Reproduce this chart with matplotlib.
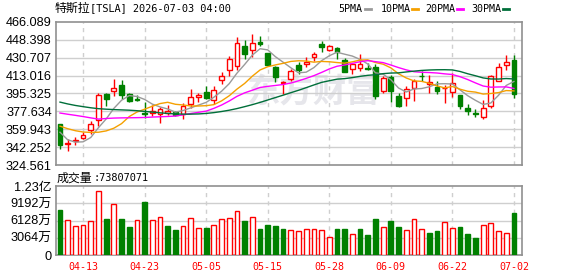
import matplotlib
matplotlib.use("Agg")
import matplotlib.pyplot as plt
from matplotlib.lines import Line2D
import numpy as np
import pandas as pd

plt.rcParams['font.family'] = ['Liberation Sans', 'Noto Sans CJK SC']
MONO = ['DejaVu Sans Mono', 'Noto Sans CJK SC']

# trading days shown (Memorial Day and Juneteenth closed)
dates = pd.bdate_range('2026-04-08', '2026-07-02', freq='C',
                       holidays=['2026-05-25', '2026-06-19'])

# OHLC
opens = [364.8, 345.4, 347.9, 351.5, 359.0, 368.7, 394.7, 398.2, 403.4, 394.7,
         389.2, 375.6, 375.7, 374.7, 376.3, 376.7, 374.7, 384.6, 391.8, 396.9,
         388.5, 408.3, 418.9, 422.9, 441.9, 438.0, 446.5, 435.1, 421.1, 406.0,
         409.8, 423.5, 424.1, 431.6, 443.9, 438.6, 440.6, 428.4, 419.5, 420.5,
         420.5, 421.5, 397.9, 411.7, 392.4, 390.5, 401.2, 413.0, 405.2, 401.7,
         400.4, 396.8, 393.7, 381.0, 375.6, 371.8, 383.3, 407.8, 423.1, 428.6]
highs = [365.2, 350.5, 351.8, 357.0, 368.4, 395.6, 395.6, 410.0, 408.3, 395.6,
         393.9, 387.4, 384.1, 381.8, 383.5, 378.3, 386.1, 399.5, 395.6, 402.8,
         402.8, 416.7, 432.3, 451.0, 448.4, 454.2, 452.6, 435.8, 422.1, 408.0,
         419.5, 426.7, 431.6, 436.4, 447.1, 443.5, 441.3, 430.0, 426.0, 434.2,
         426.0, 424.7, 412.4, 414.0, 396.3, 402.8, 409.3, 417.3, 414.0, 407.5,
         403.3, 415.6, 393.9, 384.8, 380.1, 388.8, 414.0, 426.0, 433.4, 433.4]
lows = [340.8, 338.2, 344.1, 349.9, 355.4, 363.5, 383.3, 393.1, 389.8, 386.6,
        387.9, 371.2, 373.1, 366.3, 373.7, 373.1, 370.5, 380.5, 386.6, 389.8,
        384.6, 404.4, 413.0, 418.1, 429.1, 431.0, 442.2, 422.5, 406.9, 394.7,
        407.9, 415.0, 421.8, 427.7, 436.4, 437.4, 429.4, 416.9, 415.0, 417.3,
        418.3, 389.9, 395.6, 386.6, 381.7, 382.7, 388.2, 407.9, 396.2, 394.7,
        385.6, 392.1, 380.1, 374.4, 372.0, 370.5, 381.0, 407.5, 418.9, 390.7]
closes = [344.7, 346.7, 348.9, 353.8, 364.8, 393.4, 389.8, 401.2, 394.0, 387.9,
          389.0, 375.2, 378.0, 380.2, 377.6, 373.7, 382.8, 391.4, 393.7, 391.1,
          399.2, 412.4, 429.1, 445.5, 434.1, 445.5, 443.9, 423.5, 411.7, 407.0,
          417.9, 418.9, 426.7, 434.2, 441.3, 442.2, 436.4, 417.0, 425.0, 424.5,
          420.0, 392.5, 410.2, 397.9, 383.3, 400.2, 407.4, 412.4, 406.5, 397.8,
          401.0, 405.9, 383.3, 377.6, 375.0, 380.8, 413.0, 421.4, 426.3, 394.6]
# volume in units of 10k shares (万)
volumes = [8053, 6276, 5151, 5329, 6099, 11368, 6454, 9059, 6454, 5033,
           6276, 9474, 6276, 6750, 5210, 4500, 5151, 6572, 4796, 4855,
           5329, 6395, 6572, 7875, 6099, 6750, 4678, 5388, 5210, 4678,
           4500, 4322, 4678, 4678, 4500, 3197, 4559, 4559, 3730, 4559,
           3612, 6454, 4974, 6099, 5033, 4500, 6395, 4678, 3967, 4322,
           5921, 4796, 5033, 3789, 3079, 5329, 5684, 4322, 3967, 7380.7071]

# MA values at the left edge, where the window reaches before the first bar
ma_heads = {
    5: [357.0, 349.5, 347.2, 347.5],
    10: [363.0, 360.5, 358.5, 357.2, 356.8, 357.0, 358.3, 361.0, 365.5],
    20: [376.0, 374.8, 373.7, 372.5, 371.2, 370.0, 370.6, 371.0, 371.2, 371.3,
         371.4, 371.6, 372.0, 372.3, 372.6, 373.0, 374.2, 375.5, 376.7],
    30: [386.8, 385.0, 383.5, 382.3, 381.2, 380.3, 379.8, 379.4, 379.1, 378.8,
         378.3, 377.6, 376.9, 376.2, 375.6, 375.1, 374.9, 374.9, 375.1, 375.6,
         376.4, 377.5, 378.8, 380.4, 382.3, 384.3, 386.5, 388.9, 391.3],
}
ma_colors = {5: '#9a9a9a', 10: '#f5a000', 20: '#ff00ff', 30: '#006f3a'}

price_ticks = [324.561 + 17.691 * k for k in range(9)]
vol_ticks = [0, 3064, 6128, 9192, 12256]

RED = '#ff0000'
GREEN = '#008000'
GRID = '#cfcfcf'
SPINE = '#909090'

n = len(closes)
x = np.arange(n)
o = np.array(opens); c = np.array(closes); h = np.array(highs); l = np.array(lows)


def moving_avg(p):
    out = list(ma_heads[p])
    for i in range(len(out), n):
        out.append(c[i - p + 1:i + 1].mean())
    return np.array(out)


fig = plt.figure(figsize=(5.78, 2.76), dpi=100)
W, H = 578, 276
ax = fig.add_axes([56 / W, 1 - 165 / H, 466 / W, 143 / H])
axv = fig.add_axes([56 / W, 1 - 255 / H, 466 / W, 69 / H])

tick_idx = list(range(3, n, 8))
tick_lab = [dates[i].strftime('%m-%d') for i in tick_idx]

for a in (ax, axv):
    a.set_xlim(-0.52, n + 0.05)
    for s in a.spines.values():
        s.set_color(SPINE)
        s.set_linewidth(1.2)
    for t in tick_idx:
        a.axvline(t, color=GRID, lw=1, ls=(0, (3, 3)), zorder=0)
    a.tick_params(length=0)

# watermark
ax.text(0.695, 0.50, '东方财富', transform=ax.transAxes, ha='right', va='center',
        fontsize=24, fontweight='bold', color='#e6e6eb', zorder=0,
        family=['Noto Sans CJK SC'])

# price panel
ax.set_ylim(price_ticks[0], price_ticks[-1])
ax.set_yticks(price_ticks)
ax.set_yticklabels(['%.3f' % v for v in price_ticks], fontsize=9.2)
for v in price_ticks[1:-1]:
    ax.axhline(v, color=GRID, lw=1, zorder=0)
ax.set_xticks([])
ax.tick_params(axis='y', pad=3)

up = c >= o
bw = 0.62
ax.vlines(x, l, h, colors=np.where(up, RED, GREEN), lw=1, zorder=2)
body_h = np.maximum(np.abs(c - o), 0.5)
ax.bar(x, body_h, bottom=np.minimum(o, c), width=bw,
       color=np.where(up, 'white', GREEN), edgecolor=np.where(up, RED, GREEN),
       linewidth=1, zorder=3)

for p in (5, 10, 20, 30):
    ax.plot(x, moving_avg(p), color=ma_colors[p], lw=1, zorder=4)

# volume panel
prev = np.concatenate([[o[0]], c[:-1]])
vup = c >= prev
axv.set_ylim(0, vol_ticks[-1])
axv.set_yticks(vol_ticks)
vlabels = []
for v in vol_ticks:
    if v == 0:
        vlabels.append('0')
    elif v >= 10000:
        vlabels.append('%.2f亿' % (v / 10000))
    else:
        vlabels.append('%d万' % v)
axv.set_yticklabels(vlabels, fontsize=9.2)
for v in vol_ticks[1:-1]:
    axv.axhline(v, color=GRID, lw=1, zorder=0)
axv.bar(x, volumes, width=bw, color=np.where(vup, 'white', GREEN),
        edgecolor=np.where(vup, RED, GREEN), linewidth=1, zorder=3)
axv.set_xticks(tick_idx)
axv.set_xticklabels(tick_lab, color=RED, fontsize=7.2, family=MONO)
axv.tick_params(axis='x', pad=5)
axv.tick_params(axis='y', pad=3)

# header texts
fig.text(55 / W, 1 - 8.5 / H, '特斯拉', fontsize=8.6, va='center',
         family=['Noto Sans CJK SC'])
fig.text(90.5 / W, 1 - 8.5 / H, '[TSLA] %s 04:00' % '2026-07-03', fontsize=7.4,
         va='center', family=MONO)

leg_x = {5: 338.7, 10: 380.7, 20: 425.7, 30: 471.7}
for p in (5, 10, 20, 30):
    t = fig.text(leg_x[p] / W, 1 - 9 / H, '%dPMA' % p, fontsize=7.2, va='center',
                 family=MONO)
    x0 = leg_x[p] + (4 if p == 5 else 5) * 5.85 + 2.5
    fig.add_artist(Line2D([x0 / W, (x0 + 6) / W], [1 - 9 / H, 1 - 9 / H],
                          color=ma_colors[p], lw=2, transform=fig.transFigure))

fig.text(57 / W, 1 - 177.7 / H, '成交量', fontsize=8.6, va='center',
         family=['Noto Sans CJK SC'])
fig.text(93.5 / W, 1 - 177.7 / H, ':%d' % round(volumes[-1] * 10000), fontsize=7.4,
         va='center', family=MONO)

fig.savefig('out.png', dpi=100)
